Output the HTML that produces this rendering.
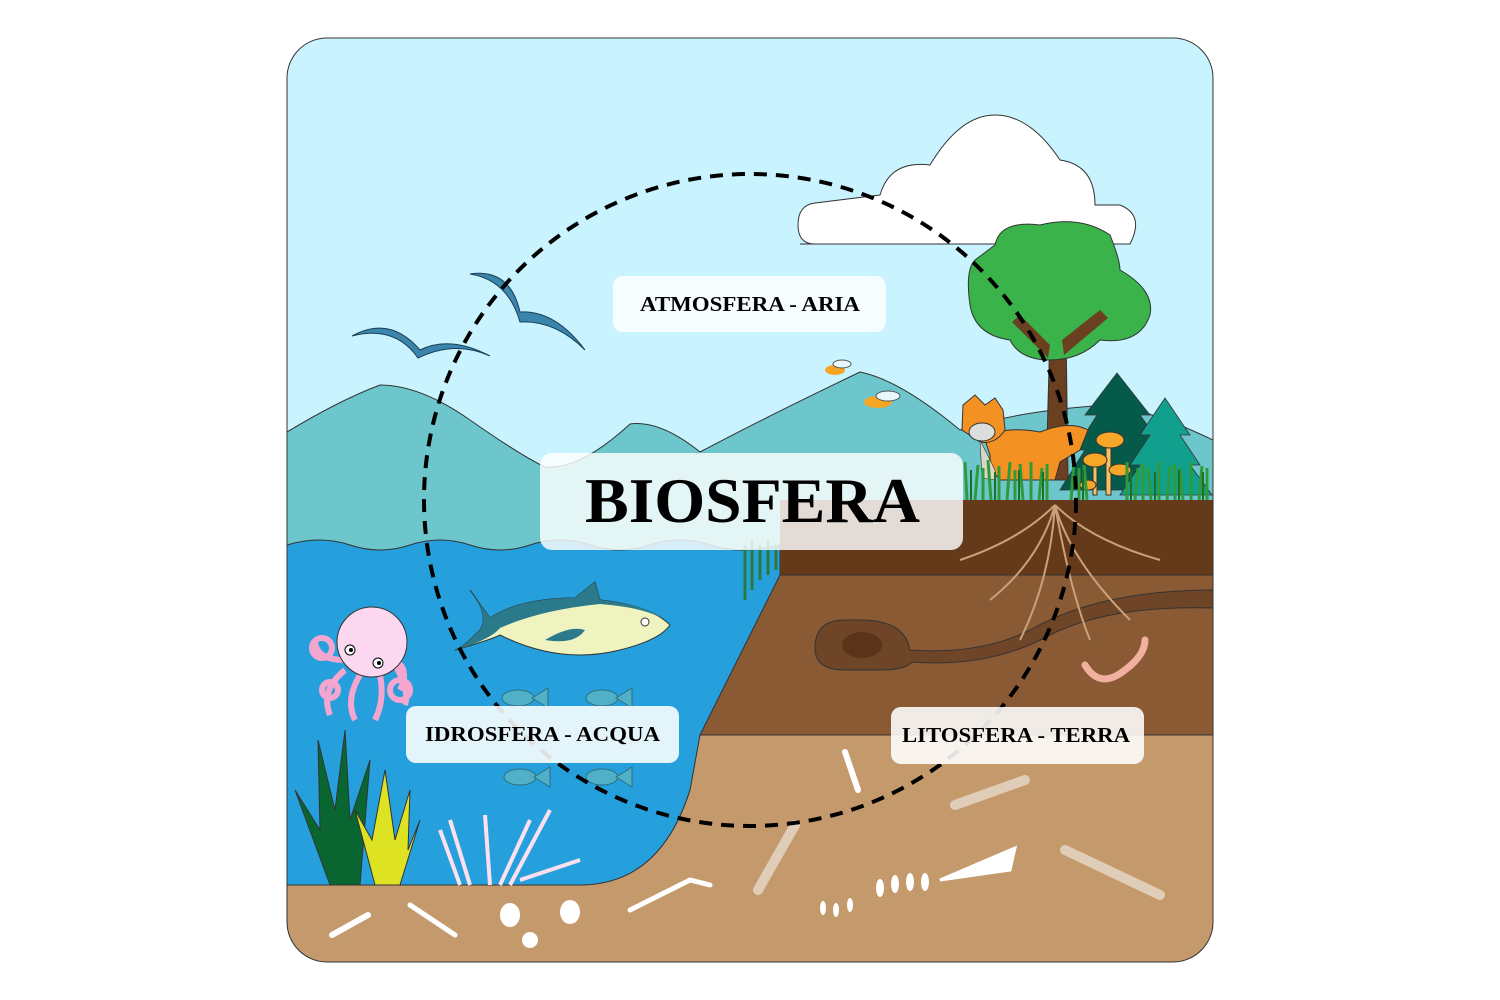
<!DOCTYPE html>
<html><head><meta charset="utf-8"><style>
html,body{margin:0;padding:0;background:#fff;}
svg{display:block;}
text{font-family:"Liberation Serif",serif;font-weight:bold;}
</style></head><body>
<svg width="1500" height="1000" viewBox="0 0 1500 1000" xmlns="http://www.w3.org/2000/svg">
<defs>
<clipPath id="c"><rect x="287" y="38" width="926" height="924" rx="40"/></clipPath>
</defs>
<g clip-path="url(#c)">
<rect x="287" y="38" width="926" height="924" fill="#c9f3fe"/>
<!-- cloud -->
<path d="M800,244 L1130,244 Q1145,215 1120,205 L1095,205 Q1095,165 1060,160 Q1030,115 995,115 Q960,115 930,165 Q890,160 880,195 L815,203 Q798,205 798,225 Q798,244 815,244 Z" fill="#fff" stroke="#333" stroke-width="1"/>
<!-- mountains -->
<path d="M287,432 Q340,400 380,385 Q420,385 470,420 Q520,455 545,467 Q580,470 630,424 Q660,420 700,452 Q760,420 860,372 Q900,380 960,430 Q1020,410 1110,405 Q1150,410 1213,440 L1213,560 L287,560 Z" fill="#6cc6cc" stroke="#333" stroke-width="1"/>
<!-- pines -->
<path d="M1117,373 L1150,415 L1140,415 L1165,450 L1150,450 L1175,490 L1060,490 L1085,450 L1075,450 L1097,415 L1085,415 Z" fill="#065a4a" stroke="#333" stroke-width="0.8"/>
<path d="M1165,398 L1190,435 L1180,435 L1200,465 L1190,465 L1212,495 L1120,495 L1140,465 L1130,465 L1150,435 L1140,435 Z" fill="#12a08e" stroke="#333" stroke-width="0.8"/>
<!-- birds -->
<path d="M352,336 Q390,315 420,350 Q450,335 490,356 Q455,340 418,358 Q395,325 352,336 Z" fill="#3a85ad" stroke="#1b3f55" stroke-width="1"/>
<path d="M470,274 Q510,268 520,312 Q555,310 585,350 Q555,320 520,322 Q508,280 470,274 Z" fill="#3a85ad" stroke="#1b3f55" stroke-width="1"/>
<!-- water -->
<path d="M287,545 Q320,535 350,545 T410,545 T470,545 T530,545 T590,545 T650,545 T710,545 T780,545 L780,575 L690,790 Q660,885 580,885 L287,885 Z" fill="#25a0dc" stroke="#333" stroke-width="1"/>
<!-- land layers -->
<path d="M780,500 L1213,500 L1213,575 L780,575 Z" fill="#653a1b"/>
<path d="M780,575 L1213,575 L1213,735 L700,735 Z" fill="#8a5a35" stroke="#333" stroke-width="1"/>
<path d="M700,735 L1213,735 L1213,962 L287,962 L287,885 L580,885 Q660,885 690,790 Z" fill="#c49a6c" stroke="#333" stroke-width="1"/>
<line x1="780" y1="575" x2="1213" y2="575" stroke="#333"/>
<!-- tree -->
<path d="M1046,480 L1050,330 L1066,330 L1068,480 Z" fill="#6b4020" stroke="#333"/>
<path d="M995,245 Q1000,220 1040,225 Q1080,215 1110,235 Q1120,260 1120,270 Q1155,290 1150,315 Q1140,345 1100,340 Q1080,360 1050,360 Q1020,360 1010,340 Q975,335 970,305 Q965,270 975,260 Z" fill="#39b34a" stroke="#333"/>
<path d="M1050,345 L1020,315 L1012,322 L1048,358 Z M1062,340 L1100,310 L1108,318 L1064,355 Z" fill="#6b4020"/>
<!-- fox -->
<path d="M985,440 Q1000,425 1040,432 Q1070,420 1088,430 L1080,450 L1060,462 L1055,480 L1000,480 Q990,470 990,455 Z" fill="#f39122" stroke="#333"/>
<path d="M963,405 L975,395 L985,405 L995,398 L1003,410 L1005,430 Q995,445 980,442 L962,430 Z" fill="#f39122" stroke="#333"/>
<ellipse cx="982" cy="432" rx="13" ry="9" fill="#ddd" stroke="#333"/>
<path d="M980,440 L995,470 L995,480 L982,478 Z" fill="#d9d6c4" stroke="#333" stroke-width="0.6"/>
<!-- mushrooms -->
<g fill="#f7a728" stroke="#333"><rect x="1106" y="445" width="5" height="50" fill="#f7c060"/><rect x="1093" y="462" width="4" height="33" fill="#f7c060"/><ellipse cx="1110" cy="440" rx="14" ry="8"/><ellipse cx="1095" cy="460" rx="12" ry="7"/><ellipse cx="1120" cy="470" rx="11" ry="6"/><ellipse cx="1088" cy="485" rx="8" ry="5"/></g>
<!-- grass -->
<g stroke="#2f9a3a" stroke-width="3">
<path d="M967,500 L965,462 M975,500 L978,465 M983,500 V468 M991,500 L988,460 M999,500 V466 M1007,500 L1010,462 M1015,500 V470 M1023,500 L1020,464 M1031,500 V462 M1039,500 L1042,468 M1047,500 V464 M1071,500 L1074,462 M1079,500 V468 M1087,500 L1084,465 M1127,500 V462 M1135,500 L1138,468 M1143,500 V464 M1151,500 L1148,468 M1159,500 V462 M1167,500 L1170,466 M1175,500 V464 M1183,500 L1180,468 M1191,500 V462 M1199,500 L1202,466 M1207,500 V468"/>
<path d="M745,600 V545 M752,590 V540 M760,580 V545 M768,575 V540 M776,570 V545" stroke="#2a7a3a"/>
</g>
<g stroke="#1e6e2a" stroke-width="2"><path d="M971,500 V470 M995,500 V472 M1019,500 V470 M1043,500 V472 M1083,500 V470 M1131,500 V470 M1155,500 V472 M1179,500 V470 M1203,500 V472"/></g>
<!-- burrow -->
<path d="M1213,590 Q1100,590 1030,630 Q980,655 910,650 Q905,620 860,620 L845,620 Q815,620 815,648 Q815,670 845,670 L880,670 Q905,670 912,662 Q990,668 1050,635 Q1110,605 1213,608 Z" fill="#6e4527" stroke="#333"/>
<ellipse cx="862" cy="645" rx="20" ry="13" fill="#5a3318"/>
<path d="M1085,665 Q1100,690 1125,670 Q1145,655 1145,640" stroke="#f2b0a0" stroke-width="7" fill="none" stroke-linecap="round"/>
<!-- roots -->
<g stroke="#c9a27a" stroke-width="2" fill="none">
<path d="M1055,505 Q1040,560 990,600 M1055,505 Q1070,560 1130,620 M1055,505 Q1020,540 960,560 M1055,505 Q1090,540 1160,560 M1055,505 Q1050,580 1020,640 M1055,505 Q1070,590 1090,640"/>
</g>
<!-- insects -->
<ellipse cx="835" cy="370" rx="10" ry="5" fill="#f5a623"/><ellipse cx="842" cy="364" rx="9" ry="4" fill="#e8f8fc" stroke="#555"/>
<ellipse cx="878" cy="402" rx="14" ry="6" fill="#f5a623"/>
<ellipse cx="888" cy="396" rx="12" ry="5" fill="#e8f8fc" stroke="#555"/>
<!-- tuna -->
<path d="M470,590 Q490,615 480,630 Q460,650 455,650 Q490,640 500,635 Q560,665 620,650 Q660,640 670,625 Q650,605 600,600 L595,582 L575,598 Q520,598 490,618 Z" fill="#eef3c0" stroke="#333"/>
<path d="M470,590 Q490,615 480,630 Q460,650 455,650 Q490,640 500,628 Q540,610 600,604 Q650,608 668,622 Q650,605 600,600 L595,582 L575,598 Q520,598 490,618 Z" fill="#2b7a8c"/>
<path d="M545,640 Q570,625 585,630 Q575,645 545,640 Z" fill="#2b7a8c"/>
<circle cx="645" cy="622" r="4" fill="#fff" stroke="#333"/>
<!-- small fish -->
<g fill="#4fb0c8" stroke="#2d6e80">
<ellipse cx="518" cy="698" rx="16" ry="8"/><path d="M532,698 L548,688 L548,708 Z"/>
<ellipse cx="602" cy="698" rx="16" ry="8"/><path d="M616,698 L632,688 L632,708 Z"/>
<ellipse cx="520" cy="777" rx="16" ry="8"/><path d="M534,777 L550,767 L550,787 Z"/>
<ellipse cx="602" cy="777" rx="16" ry="8"/><path d="M616,777 L632,767 L632,787 Z"/>
</g>
<!-- octopus -->
<g stroke="#f4a6cf" stroke-width="6" fill="none"><path d="M345,670 Q320,690 330,715 M360,675 Q345,700 355,720 M380,675 Q385,700 375,720 M395,665 Q410,690 405,705 M345,660 Q315,660 315,640 M395,660 Q410,670 400,690"/>
<circle cx="322" cy="648" r="10"/><circle cx="400" cy="690" r="10"/><circle cx="330" cy="690" r="8"/></g>
<circle cx="372" cy="642" r="35" fill="#fbd8f0" stroke="#333"/>
<circle cx="350" cy="650" r="5" fill="#fff" stroke="#000"/><circle cx="378" cy="663" r="5" fill="#fff" stroke="#000"/>
<circle cx="351" cy="650" r="2" fill="#000"/><circle cx="379" cy="663" r="2" fill="#000"/>
<!-- seaweed -->
<path d="M330,885 L295,790 L320,830 L318,740 L335,810 L345,730 L350,820 L370,760 L360,885 Z" fill="#0a6630" stroke="#333"/>
<path d="M375,885 L355,810 L372,840 L385,770 L395,840 L410,790 L408,850 L420,820 L400,885 Z" fill="#dde223" stroke="#333"/>
<path d="M460,885 L440,830 M470,885 L450,820 M490,885 L485,815 M500,885 L530,820 M510,885 L550,810 M520,880 L580,860" stroke="#fce0f0" stroke-width="4" fill="none"/>
<!-- bones -->
<g fill="#fff" stroke="#fff" stroke-width="6" stroke-linecap="round">
<line x1="332" y1="935" x2="368" y2="915"/><line x1="845" y1="752" x2="858" y2="790"/>
<path d="M940,880 L1015,848 L1010,870 Z" stroke-width="3"/>
<path d="M630,910 L690,880 L710,885" stroke-width="5" fill="none"/>
<path d="M410,905 L455,935" stroke-width="5"/>
<ellipse cx="510" cy="915" rx="7" ry="9"/><ellipse cx="570" cy="912" rx="7" ry="9"/><ellipse cx="530" cy="940" rx="5" ry="5"/>
</g>
<g stroke="#e0cdb8" stroke-width="10" stroke-linecap="round" fill="none">
<line x1="955" y1="805" x2="1025" y2="780"/><line x1="795" y1="825" x2="758" y2="890"/><line x1="1065" y1="850" x2="1160" y2="895"/>
</g>
<g fill="#fff"><ellipse cx="823" cy="908" rx="3" ry="7"/><ellipse cx="836" cy="910" rx="3" ry="7"/><ellipse cx="850" cy="905" rx="3" ry="7"/><ellipse cx="880" cy="888" rx="4" ry="9"/><ellipse cx="895" cy="884" rx="4" ry="9"/><ellipse cx="910" cy="882" rx="4" ry="9"/><ellipse cx="925" cy="882" rx="4" ry="9"/></g>
</g>
<rect x="287" y="38" width="926" height="924" rx="40" fill="none" stroke="#333" stroke-width="1"/>
<!-- dashed circle -->
<circle cx="750" cy="500" r="326" fill="none" stroke="#000" stroke-width="4" stroke-dasharray="13,9"/>
<!-- labels -->
<rect x="613" y="276" width="273" height="56" rx="10" fill="#fff" fill-opacity="0.82"/>
<text x="640" y="311" font-size="21" textLength="220" lengthAdjust="spacingAndGlyphs">ATMOSFERA - ARIA</text>
<rect x="540" y="453" width="423" height="97" rx="12" fill="#fff" fill-opacity="0.82"/>
<text x="585" y="522" font-size="64" textLength="335" lengthAdjust="spacingAndGlyphs">BIOSFERA</text>
<rect x="406" y="706" width="273" height="57" rx="10" fill="#fff" fill-opacity="0.88"/>
<text x="425" y="741" font-size="21" textLength="235" lengthAdjust="spacingAndGlyphs">IDROSFERA - ACQUA</text>
<rect x="891" y="707" width="253" height="57" rx="10" fill="#fff" fill-opacity="0.88"/>
<text x="902" y="742" font-size="21" textLength="228" lengthAdjust="spacingAndGlyphs">LITOSFERA - TERRA</text>
</svg>
</body></html>
